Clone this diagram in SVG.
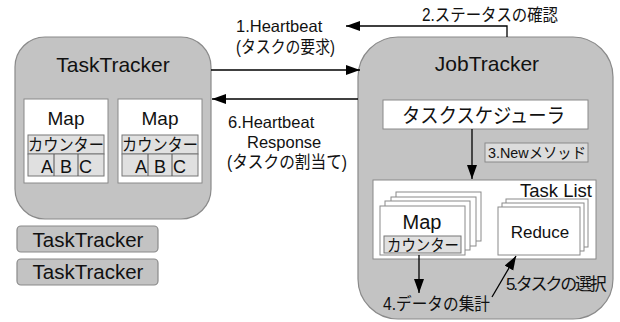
<svg xmlns="http://www.w3.org/2000/svg" width="620" height="322" viewBox="0 0 620 322">
<style>
text{font-family:"Liberation Sans","Noto Sans CJK JP",sans-serif;fill:#111;}
.tracker{fill:#c3c3c3;stroke:#8a8a8a;stroke-width:1.2;}
.white{fill:#fff;stroke:#8a8a8a;stroke-width:1;}
.cnt{fill:#e0e0e0;stroke:#777;stroke-width:1;}
.conn{stroke:#000;stroke-width:1.3;fill:none;}
.mid{text-anchor:middle;}
</style>
<defs>
<marker id="ah" markerUnits="userSpaceOnUse" markerWidth="15" markerHeight="11" refX="14" refY="5" orient="auto">
<path d="M0,0 L14,5 L0,10 z" fill="#000"/>
</marker>
</defs>

<g id="tasktracker-main">
<rect class="tracker" x="15" y="37" width="196" height="182" rx="30"/>
<text x="113" y="72" class="mid" font-size="21">TaskTracker</text>
</g>
<g id="map1">
<rect class="white" x="24" y="99" width="84" height="84"/>
<text x="66" y="125" class="mid" font-size="19">Map</text>
<rect class="cnt" x="28" y="135" width="76" height="19"/>
<text x="28" y="151" font-size="16.5" textLength="76" lengthAdjust="spacingAndGlyphs">カウンター</text>
<rect class="cnt" x="28" y="154" width="76" height="22"/>
<line x1="54" y1="154" x2="54" y2="176" stroke="#555"/>
<line x1="78" y1="154" x2="78" y2="176" stroke="#555"/>
<text x="53" y="173" font-size="18" text-anchor="end">A</text>
<text x="66" y="173" font-size="18" class="mid">B</text>
<text x="79" y="173" font-size="18">C</text>
</g>
<g id="map2">
<rect class="white" x="118" y="99" width="84" height="84"/>
<text x="160" y="125" class="mid" font-size="19">Map</text>
<rect class="cnt" x="122" y="135" width="76" height="19"/>
<text x="122" y="151" font-size="16.5" textLength="76" lengthAdjust="spacingAndGlyphs">カウンター</text>
<rect class="cnt" x="122" y="154" width="76" height="22"/>
<line x1="148" y1="154" x2="148" y2="176" stroke="#555"/>
<line x1="172" y1="154" x2="172" y2="176" stroke="#555"/>
<text x="147" y="173" font-size="18" text-anchor="end">A</text>
<text x="160" y="173" font-size="18" class="mid">B</text>
<text x="173" y="173" font-size="18">C</text>
</g>
<g id="tasktracker-2">
<rect class="tracker" x="17" y="226" width="141" height="26" rx="4"/>
<text x="88" y="247" class="mid" font-size="20.5">TaskTracker</text>
</g>
<g id="tasktracker-3">
<rect class="tracker" x="17" y="259" width="141" height="26" rx="4"/>
<text x="88" y="279" class="mid" font-size="20.5">TaskTracker</text>
</g>

<g id="jobtracker">
<rect class="tracker" x="358" y="37" width="255" height="282" rx="40"/>
<text x="487" y="71" class="mid" font-size="21">JobTracker</text>
</g>
<g id="scheduler">
<rect class="white" x="383" y="100" width="205" height="29"/>
<text x="402" y="123" font-size="20.5" textLength="163" lengthAdjust="spacingAndGlyphs">タスクスケジューラ</text>
</g>
<g id="new-method">
<rect x="485" y="143" width="103" height="19" fill="#dcdcdc" stroke="#8a8a8a"/>
<text x="488" y="158" font-size="15" textLength="98" lengthAdjust="spacingAndGlyphs">3.Newメソッド</text>
</g>
<g id="tasklist">
<rect class="white" x="373" y="180" width="223" height="79"/>
<text x="592" y="197" font-size="18.5" text-anchor="end">Task List</text>
</g>
<g id="map-stack">
<rect class="white" x="396" y="192" width="85" height="49"/>
<rect class="white" x="391" y="197" width="85" height="49"/>
<rect class="white" x="385" y="201" width="85" height="49"/>
<rect class="white" x="380" y="206" width="85" height="49"/>
<text x="422" y="229" class="mid" font-size="20">Map</text>
<rect class="cnt" x="384" y="236" width="77" height="17"/>
<text x="387" y="251" font-size="16" textLength="72" lengthAdjust="spacingAndGlyphs">カウンター</text>
</g>
<g id="reduce-stack">
<rect class="white" x="506" y="199" width="82" height="48"/>
<rect class="white" x="502" y="203" width="82" height="48"/>
<rect class="white" x="498" y="207" width="82" height="48"/>
<text x="540" y="238" class="mid" font-size="17">Reduce</text>
</g>

<g id="connectors">
<line class="conn" x1="211" y1="70" x2="360" y2="70" marker-end="url(#ah)"/>
<line class="conn" x1="358" y1="99" x2="212" y2="99" marker-end="url(#ah)"/>
<polyline class="conn" points="507,37 507,26 346,26" marker-end="url(#ah)"/>
<line class="conn" x1="472" y1="129" x2="472" y2="179" marker-end="url(#ah)"/>
<line class="conn" x1="419" y1="255" x2="419" y2="293" marker-end="url(#ah)"/>
<line class="conn" x1="492" y1="297" x2="516" y2="256" marker-end="url(#ah)"/>
</g>

<g id="labels">
<text x="236" y="32" font-size="16.5">1.Heartbeat</text>
<text x="236" y="53" font-size="17.5" textLength="99" lengthAdjust="spacingAndGlyphs">(タスクの要求)</text>
<text x="422" y="21" font-size="17.5" textLength="136" lengthAdjust="spacingAndGlyphs">2.ステータスの確認</text>
<text x="228" y="128" font-size="16.5">6.Heartbeat</text>
<text x="247" y="148" font-size="16.5">Response</text>
<text x="227" y="168" font-size="17.5" textLength="120" lengthAdjust="spacingAndGlyphs">(タスクの割当て)</text>
<text x="383" y="310" font-size="17.5" textLength="107" lengthAdjust="spacingAndGlyphs">4.データの集計</text>
<text x="506" y="290" font-size="17" letter-spacing="-2.2">5.タスクの選択</text>
</g>
</svg>
